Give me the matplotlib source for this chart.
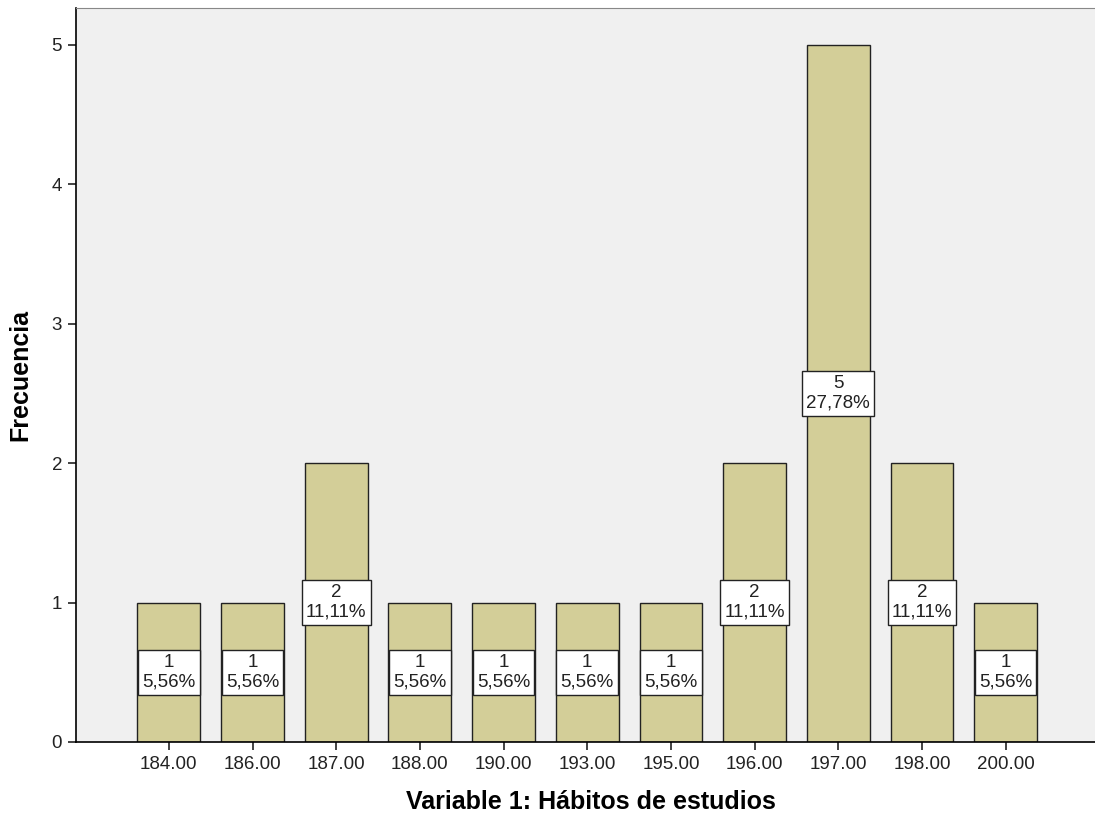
import matplotlib
matplotlib.use("Agg")
import matplotlib.pyplot as plt

# datos
categorias = ["184.00", "186.00", "187.00", "188.00", "190.00", "193.00",
              "195.00", "196.00", "197.00", "198.00", "200.00"]
frecuencias = [1, 1, 2, 1, 1, 1, 1, 2, 5, 2, 1]
porcentajes = ["5,56%", "5,56%", "11,11%", "5,56%", "5,56%", "5,56%",
               "5,56%", "11,11%", "27,78%", "11,11%", "5,56%"]

plt.rcParams['font.family'] = ['Liberation Sans', 'DejaVu Sans']

fig = plt.figure(figsize=(10.95, 8.26), dpi=100)
ax = fig.add_axes([76/1095, 1 - 742/826, (1095-76)/1095 + 0.01, (742-8)/826])
ax.set_facecolor("#F0F0F0")

x = list(range(len(categorias)))
ax.bar(x, frecuencias, width=0.75, color="#D3CE98", edgecolor="#222222", linewidth=1.0, zorder=2)

for xi, f, p in zip(x, frecuencias, porcentajes):
    ax.text(xi, f / 2, f"{f}\n{p}", ha="center", va="center", fontsize=13.5,
            linespacing=1.2, color="#222222", zorder=3,
            bbox=dict(boxstyle="square,pad=0.22", fc="white", ec="#222222", lw=1.0))

ax.set_xlim(-1.11, 11.2)
ax.set_ylim(0, 5.265)
ax.set_yticks([0, 1, 2, 3, 4, 5])
ax.set_xticks(x)
ax.set_xticklabels(categorias)
ax.tick_params(axis="both", direction="out", length=6, width=1.2, labelsize=13.5,
               colors="#222222", pad=4)
ax.spines["right"].set_visible(False)
ax.spines["top"].set_color("#888888")
ax.spines["left"].set_linewidth(1.2)
ax.spines["bottom"].set_linewidth(1.2)

ax.set_xlabel("Variable 1: Hábitos de estudios", fontsize=18, fontweight="bold", labelpad=12)
ax.set_ylabel("Frecuencia", fontsize=18, fontweight="bold", labelpad=14)

fig.savefig("out.png", dpi=100)
